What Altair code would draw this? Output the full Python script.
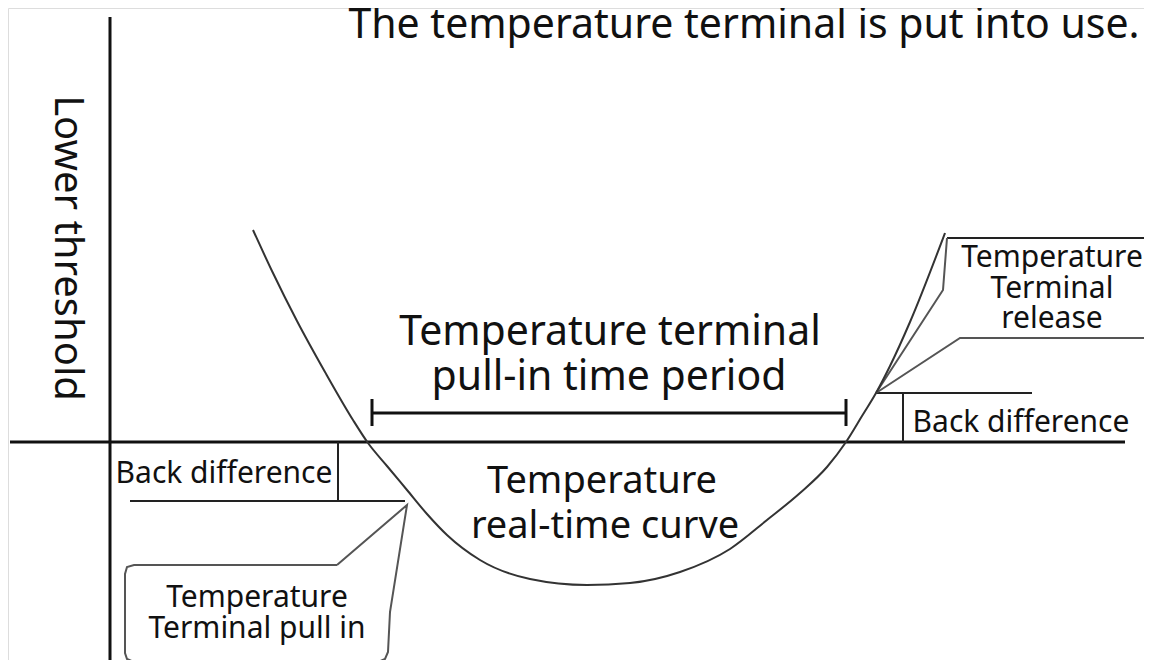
import altair as alt
import pandas as pd

# ---- temperature real-time curve (pixel-like units) ----
curve_x = [253, 272, 297, 325, 353, 368, 387, 407, 427, 447, 480, 530, 587, 630,
           680, 730, 767, 800, 827, 846, 862, 876, 890, 910, 945]
curve_y = [230, 271, 321, 372, 420, 443, 466, 490, 514, 535, 560, 579, 585, 583,
           572, 549, 520, 493, 467, 442, 416, 393, 366, 322, 233]

# ---- heavy straight segments: axes and the pull-in period bar ----
heavy_x1 = [10, 110, 372, 372, 846]
heavy_y1 = [442, 17, 413, 399, 399]
heavy_x2 = [1125, 110, 846, 372, 846]
heavy_y2 = [442, 668, 413, 426, 426]

# ---- light straight segments: back-difference markers, release box top ----
light_x1 = [338, 130, 876, 903, 947]
light_y1 = [442, 501, 393, 393, 238]
light_x2 = [338, 405, 1032, 903, 1150]
light_y2 = [501, 501, 393, 442, 238]

# ---- callout outlines (polylines) ----
pullin_box_x = [337, 407, 390, 388, 385, 378, 134, 127, 125, 125, 127, 134, 337]
pullin_box_y = [565, 505, 612, 652, 659, 662, 662, 659, 653, 574, 567, 565, 565]
release_a_x = [947, 943, 876]
release_a_y = [238, 290, 393]
release_b_x = [876, 960, 1150]
release_b_y = [393, 338, 338]

# ---- labels ----
title_text = ["The temperature terminal is put into use."]
title_x = [744]
title_y = [38]

ylabel_text = ["Lower threshold"]
ylabel_x = [67]
ylabel_y = [248]

period_text = ["Temperature terminal", "pull-in time period"]
period_x = [610, 609]
period_y = [345, 390]

curve_text = ["Temperature", "real-time curve"]
curve_lx = [602, 605]
curve_ly = [493, 538]

back_text = ["Back difference", "Back difference"]
back_x = [224, 1021]
back_y = [483, 432]

callout_text = ["Temperature", "Terminal pull in", "Temperature", "Terminal", "release"]
callout_x = [257, 257, 1052, 1052, 1052]
callout_y = [607, 638, 267, 298, 328]

FONT = "Noto Sans"
INK = "#111111"

xs = alt.Scale(domain=[8, 1144], nice=False, zero=False)
ys = alt.Scale(domain=[8, 660], nice=False, zero=False, reverse=True)


def X(f="x"):
    return alt.X(f"{f}:Q", scale=xs, axis=None)


def Y(f="y"):
    return alt.Y(f"{f}:Q", scale=ys, axis=None)


curve_df = pd.DataFrame({"x": curve_x, "y": curve_y, "i": range(len(curve_x))})
curve = alt.Chart(curve_df).mark_line(
    color="#333333", strokeWidth=2, interpolate="monotone"
).encode(x=X(), y=Y(), order="i:Q")

heavy_df = pd.DataFrame({"x": heavy_x1, "y": heavy_y1, "x2": heavy_x2, "y2": heavy_y2})
heavy = alt.Chart(heavy_df).mark_rule(color="#111111", strokeWidth=3).encode(
    x=X(), y=Y(), x2="x2:Q", y2="y2:Q"
)

light_df = pd.DataFrame({"x": light_x1, "y": light_y1, "x2": light_x2, "y2": light_y2})
light = alt.Chart(light_df).mark_rule(color="#222222", strokeWidth=2).encode(
    x=X(), y=Y(), x2="x2:Q", y2="y2:Q"
)

rows = []
for g, (px, py) in enumerate([(pullin_box_x, pullin_box_y),
                              (release_a_x, release_a_y),
                              (release_b_x, release_b_y)]):
    for i, (a, b) in enumerate(zip(px, py)):
        rows.append({"g": g, "i": i, "x": a, "y": b})
poly_df = pd.DataFrame(rows)
poly = alt.Chart(poly_df).mark_line(color="#555555", strokeWidth=2).encode(
    x=X(), y=Y(), detail="g:N", order="i:Q"
)


def text_layer(texts, tx, ty, size, **kw):
    df = pd.DataFrame({"t": texts, "x": tx, "y": ty})
    return alt.Chart(df).mark_text(
        font=FONT, fontSize=size, color=INK, align="center",
        baseline=kw.pop("baseline", "alphabetic"), **kw
    ).encode(x=X(), y=Y(), text="t:N")


t_title = text_layer(title_text, title_x, title_y, 41)
t_ylabel = text_layer(ylabel_text, ylabel_x, ylabel_y, 40, angle=90, baseline="middle")
t_period = text_layer(period_text, period_x, period_y, 41)
t_curve = text_layer(curve_text, curve_lx, curve_ly, 38)
t_back = text_layer(back_text, back_x, back_y, 30)
t_callout_l = text_layer(callout_text[:2], callout_x[:2], callout_y[:2], 30)
t_callout_r = text_layer(callout_text[2:], callout_x[2:], callout_y[2:], 30)

chart = alt.layer(
    heavy, light, poly, curve,
    t_title, t_ylabel, t_period, t_curve, t_back, t_callout_l, t_callout_r
).properties(
    width=1136, height=652, autosize="none", padding=0
).configure_view(stroke=None).configure(background="white")

chart.save("out.html", embed_options={"renderer": "svg", "actions": False})
